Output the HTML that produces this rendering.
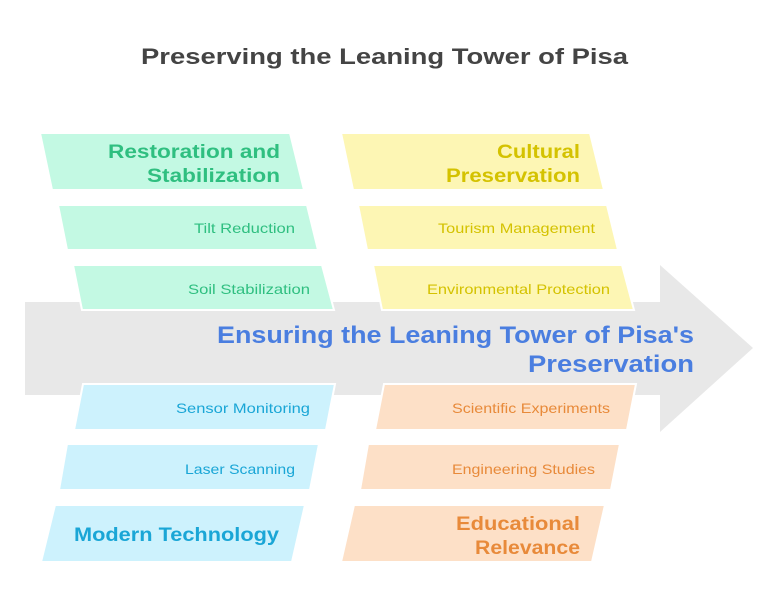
<!DOCTYPE html>
<html><head><meta charset="utf-8"><style>
html,body{margin:0;padding:0;background:#fff;}
svg{display:block;font-family:"Liberation Sans",sans-serif;}
</style></head><body>
<svg width="780" height="612" viewBox="0 0 780 612" xmlns="http://www.w3.org/2000/svg">
<text x="141" y="64" font-size="22" font-weight="bold" fill="#444" textLength="487" lengthAdjust="spacingAndGlyphs">Preserving the Leaning Tower of Pisa</text>
<polygon points="25,302 660,302 660,265 753,348 660,432 660,395 25,395" fill="#e8e8e8"/>
<g stroke="#fff" stroke-width="2">
<polygon points="40,133 290,133 304,190 52,190" fill="#c3f9e3"/>
<polygon points="58,205 307,205 318,250 67,250" fill="#c3f9e3"/>
<polygon points="73,265 322,265 334,310 82,310" fill="#c3f9e3"/>
<polygon points="341,133 590,133 604,190 353,190" fill="#fdf6b4"/>
<polygon points="358,205 607,205 618,250 367,250" fill="#fdf6b4"/>
<polygon points="373,265 622,265 634,310 382,310" fill="#fdf6b4"/>
<polygon points="83,384 335,384 326,430 74,430" fill="#cdf2fd"/>
<polygon points="67,444 319,444 310,490 59,490" fill="#cdf2fd"/>
<polygon points="55,505 305,505 292,562 41,562" fill="#cdf2fd"/>
<polygon points="384,384 636,384 627,430 375,430" fill="#fde0c7"/>
<polygon points="368,444 620,444 611,490 360,490" fill="#fde0c7"/>
<polygon points="354,505 605,505 592,562 341,562" fill="#fde0c7"/>
</g>
<g font-weight="bold" font-size="19">
<text x="108" y="158" fill="#2fbf80" textLength="172" lengthAdjust="spacingAndGlyphs">Restoration and</text>
<text x="147" y="182" fill="#2fbf80" textLength="133" lengthAdjust="spacingAndGlyphs">Stabilization</text>
<text x="497" y="158" fill="#d4c200" textLength="83" lengthAdjust="spacingAndGlyphs">Cultural</text>
<text x="446" y="182" fill="#d4c200" textLength="134" lengthAdjust="spacingAndGlyphs">Preservation</text>
<text x="74" y="541" fill="#1aa6d6" textLength="205" lengthAdjust="spacingAndGlyphs">Modern Technology</text>
<text x="456" y="530" fill="#e88a3a" textLength="124" lengthAdjust="spacingAndGlyphs">Educational</text>
<text x="475" y="554" fill="#e88a3a" textLength="105" lengthAdjust="spacingAndGlyphs">Relevance</text>
<text x="217" y="343" font-size="24" fill="#4a7ee0" textLength="477" lengthAdjust="spacingAndGlyphs">Ensuring the Leaning Tower of Pisa's</text>
<text x="528" y="372" font-size="24" fill="#4a7ee0" textLength="166" lengthAdjust="spacingAndGlyphs">Preservation</text>
</g>
<g font-size="14">
<text x="194" y="233" fill="#2fbf80" textLength="101" lengthAdjust="spacingAndGlyphs">Tilt Reduction</text>
<text x="188" y="294" fill="#2fbf80" textLength="122" lengthAdjust="spacingAndGlyphs">Soil Stabilization</text>
<text x="438" y="233" fill="#d4c200" textLength="157" lengthAdjust="spacingAndGlyphs">Tourism Management</text>
<text x="427" y="294" fill="#d4c200" textLength="183" lengthAdjust="spacingAndGlyphs">Environmental Protection</text>
<text x="176" y="413" fill="#1aa6d6" textLength="134" lengthAdjust="spacingAndGlyphs">Sensor Monitoring</text>
<text x="185" y="474" fill="#1aa6d6" textLength="110" lengthAdjust="spacingAndGlyphs">Laser Scanning</text>
<text x="452" y="413" fill="#e88a3a" textLength="158" lengthAdjust="spacingAndGlyphs">Scientific Experiments</text>
<text x="452" y="474" fill="#e88a3a" textLength="143" lengthAdjust="spacingAndGlyphs">Engineering Studies</text>
</g>
</svg>
</body></html>
